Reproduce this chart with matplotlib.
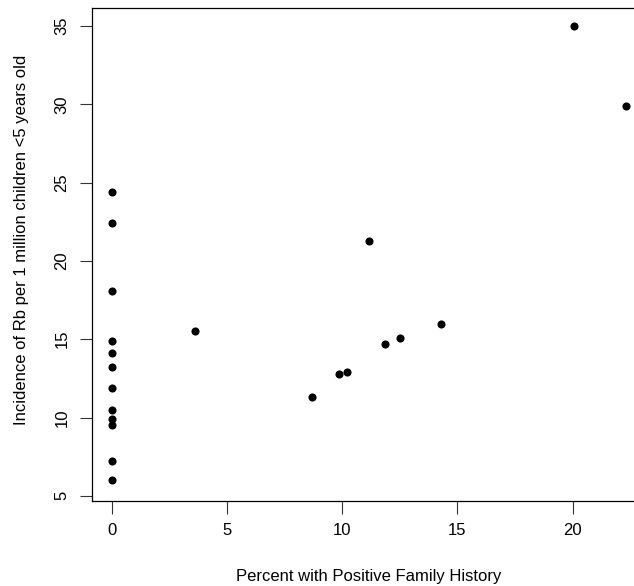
"""Scatter of Rb incidence against percent with positive family history (R base-plot look)."""

import matplotlib
matplotlib.use("Agg")
import matplotlib.pyplot as plt

# percent with positive family history
family_history = [0, 0, 0, 0, 0, 0, 0, 0, 0, 0, 0, 0,
                  3.6, 8.7, 9.85, 10.2, 11.15, 11.85, 12.5, 14.3, 20.05, 22.3]
# incidence per 1 million children < 5 years
incidence = [24.4, 22.4, 18.1, 14.9, 14.1, 13.2, 11.9, 10.5, 9.9, 9.5, 7.2, 6.0,
             15.5, 11.3, 12.75, 12.9, 21.3, 14.7, 15.05, 16.0, 35.0, 29.9]

x_ticks = [0, 5, 10, 15, 20]
y_ticks = [5, 10, 15, 20, 25, 30, 35]

plt.rcParams.update({
    "font.family": ["Liberation Sans", "DejaVu Sans"],
    "font.size": 12,
})

W, H = 634, 586
fig = plt.figure(figsize=(W / 100, H / 100), dpi=100)
left, right, top, bottom = 91.7, 646.0, 8.3, 501.0
ax = fig.add_axes([left / W, 1 - bottom / H, (right - left) / W, (bottom - top) / H])

ax.scatter(family_history, incidence, s=34, color="black", linewidths=0, zorder=3)

ax.set_xlim(-0.86, 23.18)
ax.set_ylim(4.67, 36.13)
ax.set_xticks(x_ticks)
ax.set_yticks(y_ticks)
ax.set_yticklabels([str(t) for t in y_ticks], rotation=90, va="center")
ax.tick_params(axis="both", length=9, width=0.8, color="#333333", pad=7)

for side in ax.spines.values():
    side.set_linewidth(0.9)
    side.set_color("black")

ax.set_xlabel("Percent with Positive Family History", labelpad=22)
ax.set_ylabel("Incidence of Rb per 1 million children <5 years old", labelpad=5)
ax.yaxis.set_label_coords(-0.113, 0.53)

fig.savefig("out.png", dpi=100)
